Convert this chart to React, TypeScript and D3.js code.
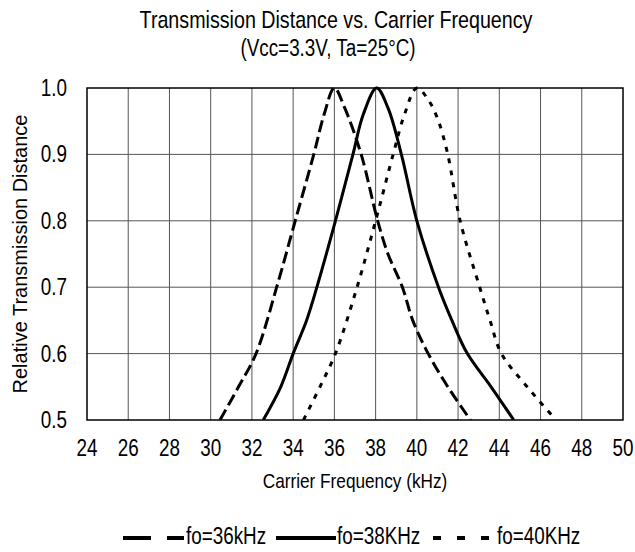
import React from 'react';
import * as d3 from 'd3';

const xTicks = [24, 26, 28, 30, 32, 34, 36, 38, 40, 42, 44, 46, 48, 50];
const yTicks = [0.5, 0.6, 0.7, 0.8, 0.9, 1.0];

const f36Freq = [30.45, 31.35, 32.2, 33.2, 34.1, 35.0, 35.5, 36.0, 36.5, 37.3, 38.1, 38.6, 39.3, 39.8, 40.55, 41.5, 42.6];
const f36Val = [0.5, 0.55, 0.6, 0.7, 0.8, 0.9, 0.96, 1.0, 0.97, 0.9, 0.8, 0.75, 0.7, 0.65, 0.6, 0.55, 0.5];

const f38Freq = [32.55, 33.4, 34.0, 34.65, 35.15, 36.05, 36.9, 37.4, 38.05, 38.6, 39.25, 40.0, 41.05, 41.7, 42.45, 43.6, 44.7];
const f38Val = [0.5, 0.55, 0.6, 0.65, 0.7, 0.8, 0.9, 0.96, 1.0, 0.97, 0.9, 0.8, 0.7, 0.65, 0.6, 0.55, 0.5];

const f40Freq = [34.5, 35.3, 36.05, 37.1, 38.0, 38.85, 39.4, 40.0, 40.6, 41.05, 41.5, 42.1, 43.05, 43.55, 44.1, 45.35, 46.75];
const f40Val = [0.5, 0.55, 0.6, 0.7, 0.8, 0.9, 0.96, 1.0, 0.98, 0.95, 0.9, 0.8, 0.7, 0.65, 0.6, 0.55, 0.5];

const titleLines = ['Transmission Distance vs. Carrier Frequency', '(Vcc=3.3V, Ta=25°C)'];
const xTitle = 'Carrier Frequency (kHz)';
const yTitle = 'Relative Transmission Distance';
const seriesNames = ['fo=36kHz', 'fo=38KHz', 'fo=40KHz'];

const FONT = "'Liberation Sans', Arial, sans-serif";
const NARROW = 0.82;

function NText(props: { x: number; y: number; size: number; anchor?: string; children: React.ReactNode }) {
  const { x, y, size, anchor = 'start', children } = props;
  return (
    <text transform={`translate(${x},${y}) scale(${NARROW},1)`} textAnchor={anchor} fontSize={size} fill="#000">
      {children}
    </text>
  );
}

export default function App() {
  const W = 635, H = 552;
  const left = 87, right = 623, top = 88, bottom = 420;
  const x = d3.scaleLinear().domain([24, 50]).range([left, right]);
  const y = d3.scaleLinear().domain([0.5, 1.0]).range([bottom, top]);

  const mk = (fx: number[], fy: number[]) => {
    const pts: [number, number][] = fx.map((v, i) => [v, fy[i]]);
    return d3.line<[number, number]>()
      .x(d => x(d[0]))
      .y(d => y(d[1]))
      .curve(d3.curveCatmullRom.alpha(0.5))(pts) || '';
  };

  const series = [
    { d: mk(f36Freq, f36Val), dash: '12,5', legDash: '28,16', w: 3 },
    { d: mk(f38Freq, f38Val), dash: undefined, legDash: undefined, w: 3 },
    { d: mk(f40Freq, f40Val), dash: '5,7', legDash: '8,16', w: 3 },
  ];

  const legend = [
    { x1: 123, x2: 184, tx: 186 },
    { x1: 276, x2: 336, tx: 337 },
    { x1: 433, x2: 489, tx: 497 },
  ];

  return (
    <svg width={W} height={H} style={{ position: 'absolute', left: 0, top: 0, background: '#fff' }} fontFamily={FONT}>
      <rect x={0} y={0} width={W} height={H} fill="#fff" />
      <defs>
        <clipPath id="plotclip">
          <rect x={left} y={top - 2} width={right - left} height={bottom - top + 2} />
        </clipPath>
      </defs>
      <NText x={336} y={28} size={24} anchor="middle">{titleLines[0]}</NText>
      <NText x={328} y={56} size={23} anchor="middle">{titleLines[1]}</NText>

      {xTicks.slice(1, -1).map(t => (
        <line key={'gx' + t} x1={x(t)} x2={x(t)} y1={top} y2={bottom} stroke="#555" strokeWidth={1} />
      ))}
      {yTicks.slice(1, -1).map(t => (
        <line key={'gy' + t} x1={left} x2={right} y1={y(t)} y2={y(t)} stroke="#555" strokeWidth={1} />
      ))}
      <rect x={left} y={top} width={right - left} height={bottom - top} fill="none" stroke="#000" strokeWidth={1.5} />

      <g clipPath="url(#plotclip)">
        {series.map((s, i) => (
          <path key={i} d={s.d} fill="none" stroke="#000" strokeWidth={s.w} strokeDasharray={s.dash} />
        ))}
      </g>

      {yTicks.map(t => (
        <NText key={'ty' + t} x={67} y={y(t) + 8} size={23} anchor="end">{t.toFixed(1)}</NText>
      ))}
      {xTicks.map(t => (
        <NText key={'tx' + t} x={x(t)} y={456} size={23} anchor="middle">{t}</NText>
      ))}

      <NText x={(left + right) / 2} y={488} size={21} anchor="middle">{xTitle}</NText>
      <text transform={`translate(27, ${(top + bottom) / 2}) rotate(-90)`} textAnchor="middle" fontSize={20} fill="#000">{yTitle}</text>

      {legend.map((l, i) => (
        <g key={'lg' + i}>
          <line x1={l.x1} x2={l.x2} y1={538} y2={538} stroke="#000" strokeWidth={4} strokeDasharray={series[i].legDash} />
          <NText x={l.tx} y={544} size={23}>{seriesNames[i]}</NText>
        </g>
      ))}
    </svg>
  );
}
